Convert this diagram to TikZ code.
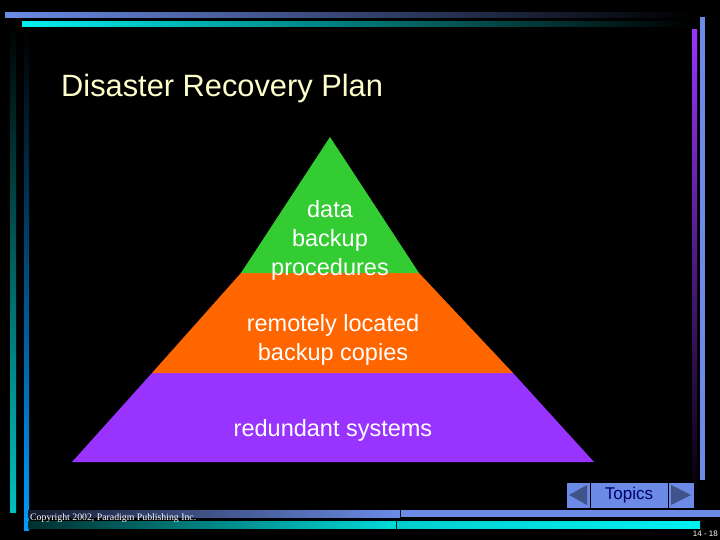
\documentclass[tikz,border=0pt]{standalone}
\usepackage{fontspec}
\setmainfont{Liberation Sans}
\newfontfamily\serifcr{Liberation Serif}
\definecolor{lblue}{HTML}{6B8BE6}
\definecolor{cy}{HTML}{00F0F0}
\definecolor{grn}{HTML}{33CC33}
\definecolor{org}{HTML}{FF6600}
\definecolor{pur}{HTML}{9933FF}
\definecolor{ttl}{HTML}{FFFFCC}
\begin{document}
\begin{tikzpicture}[x=1pt,y=-1pt,
  lbl/.style={text=white,font=\fontsize{23.5}{29}\selectfont,align=center,inner sep=0},
  btn/.style={fill=lblue,draw=black,line width=0.6pt}]
\useasboundingbox (0,0) rectangle (720,540);
\fill[black] (0,0) rectangle (720,540);
% top bars
\shade[left color=lblue,right color=black] (5,13) rectangle (690,18);
\shade[left color=cy,right color=black] (22,22) rectangle (690,27);
% left verticals
\shade[top color=black,bottom color=cy!80!black] (10,22) rectangle (16,512);
\shade[top color=black,bottom color=cyan!60!blue] (24,30) rectangle (29,530);
% right verticals
\fill[lblue] (700,17) rectangle (705,480);
\shade[top color=pur,bottom color=black] (692,30) rectangle (697,505);
% bottom bars
\shade[left color=black!80!lblue,right color=lblue] (28,510) rectangle (400,517);
\fill[lblue] (401,510) rectangle (720,517);
\shade[left color=black!80!cy,right color=cy!80!teal] (28,521) rectangle (396,528);
\shade[left color=cy!70!teal,right color=cy] (397,521) rectangle (700,528);
\node[anchor=west,text=white,font=\serifcr\fontsize{9.8}{11}\selectfont,inner sep=0] (copy) at (30,518) {Copyright 2002, Paradigm Publishing Inc.};
\node[anchor=east,text=white,font=\fontsize{8}{9}\selectfont,inner sep=0] (pg) at (718,534) {14 - 18};
% title
\node[anchor=west,text=ttl,font=\fontsize{30.8}{34}\selectfont,inner sep=0] (title) at (61,89) {Disaster Recovery Plan};
% pyramid
\fill[pur] (152,373) -- (513,373) -- (594,462) -- (72,462) -- cycle;
\fill[org] (241,273) -- (419,273) -- (513,373) -- (152,373) -- cycle;
\fill[grn] (330,137) -- (419,273) -- (241,273) -- cycle;
\node[lbl] (t1) at (330,240) {data\\backup\\procedures};
\node[lbl] (t2) at (333,340) {remotely located\\backup copies};
\node[lbl] (t3) at (333,430) {redundant systems};
% Topics button
\draw[btn] (566,482) rectangle (590,508);
\draw[btn] (590,482) rectangle (668,508);
\draw[btn] (668,482) rectangle (694,508);
\fill[black!40!lblue] (569,495) -- (587,485) -- (587,505) -- cycle;
\fill[black!40!lblue] (691,495) -- (671,485) -- (671,505) -- cycle;
\node[text=black!30!blue!60!black,font=\fontsize{17}{20}\selectfont,inner sep=0] (topics) at (629,495) {Topics};
\end{tikzpicture}
\end{document}
